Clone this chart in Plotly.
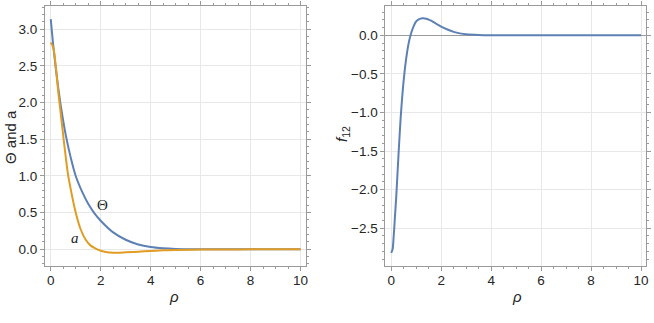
import plotly.graph_objects as go
from plotly.subplots import make_subplots

# values
rho_theta = [0, 0.1, 0.2, 0.3, 0.4, 0.5, 0.6, 0.8, 1.0, 1.25, 1.5, 1.75, 2.0,
             2.5, 3.0, 3.5, 4.0, 4.5, 5.0, 6.0, 7.0, 8.0, 9.0, 10.0]
theta = [3.14, 2.78, 2.47, 2.2, 1.96, 1.75, 1.56, 1.25, 1.0, 0.79, 0.62, 0.49, 0.39,
         0.23, 0.13, 0.065, 0.03, 0.013, 0.005, 0.001, 0.0, 0.0, 0.0, 0.0]

rho_a = [0, 0.1, 0.2, 0.3, 0.4, 0.5, 0.6, 0.7, 0.8, 0.9, 1.0, 1.2, 1.4, 1.6, 1.8,
         2.0, 2.25, 2.5, 2.75, 3.0, 3.5, 4.0, 4.5, 5.0, 6.0, 7.0, 8.0, 9.0, 10.0]
a_vals = [2.82, 2.75, 2.5, 2.15, 1.85, 1.55, 1.26, 1.0, 0.82, 0.65, 0.5, 0.27, 0.13,
          0.05, 0.01, -0.02, -0.04, -0.047, -0.046, -0.042, -0.033, -0.022, -0.014,
          -0.009, -0.004, -0.002, -0.001, 0.0, 0.0]

rho_f = [0, 0.05, 0.1, 0.15, 0.2, 0.25, 0.3, 0.35, 0.4, 0.5, 0.6, 0.7, 0.8, 0.9,
         1.0, 1.1, 1.2, 1.3, 1.4, 1.5, 1.6, 1.8, 2.0, 2.25, 2.5, 2.75, 3.0, 3.5,
         4.0, 5.0, 6.0, 8.0, 10.0]
f12 = [-2.82, -2.78, -2.6, -2.35, -2.1, -1.8, -1.5, -1.22, -0.97, -0.58, -0.3, -0.1,
       0.03, 0.12, 0.18, 0.208, 0.219, 0.22, 0.214, 0.203, 0.19, 0.15, 0.113, 0.075,
       0.045, 0.025, 0.013, 0.004, 0.001, 0.0, 0.0, 0.0, 0.0]

BLUE = "#5E81B5"
ORANGE = "#E19C24"
FRAME = "#9a9a9a"
GRID = "#e8e8e8"

fig = make_subplots(rows=1, cols=2, horizontal_spacing=0.133)

fig.add_trace(go.Scatter(x=rho_theta, y=theta, mode="lines", line_shape="spline",
                         line=dict(color=BLUE, width=2)), row=1, col=1)
fig.add_trace(go.Scatter(x=rho_a, y=a_vals, mode="lines", line_shape="spline",
                         line=dict(color=ORANGE, width=2)), row=1, col=1)
fig.add_trace(go.Scatter(x=rho_f, y=f12, mode="lines", line_shape="spline",
                         line=dict(color=BLUE, width=2)), row=1, col=2)

axis_common = dict(
    showline=True, linecolor=FRAME, linewidth=1, mirror="ticks",
    ticks="outside", ticklen=4, tickcolor=FRAME, tickwidth=1,
    showgrid=True, gridcolor=GRID, gridwidth=1, zeroline=False, automargin=False,
    tickfont=dict(family="Liberation Sans, Arial", size=13.5, color="#262626"),
)

fig.update_xaxes(range=[-0.23, 10.2], dtick=2, tickformat="d", ticklabelstandoff=-2,
                 minor=dict(dtick=0.5, ticks="outside", ticklen=2, tickcolor=FRAME,
                            showgrid=False), **axis_common)
fig.update_yaxes(range=[-0.228, 3.318], dtick=0.5, tickformat=".1f",
                 minor=dict(dtick=0.1, ticks="outside", ticklen=2, tickcolor=FRAME,
                            showgrid=False), row=1, col=1, **axis_common)
fig.update_yaxes(range=[-2.99, 0.38], dtick=0.5, tickformat=".1f",
                 minor=dict(dtick=0.1, ticks="outside", ticklen=2, tickcolor=FRAME,
                            showgrid=False), row=1, col=2, **axis_common)
fig.update_yaxes(zeroline=True, zerolinecolor=FRAME, zerolinewidth=1, row=1, col=2)

# paper coords: plot area spans x 45..646 px, y 6..266 px
def px_x(px):
    return (px - 45) / 601


def px_y(py):
    return (266 - py) / 260


title_font = dict(family="Liberation Sans, Arial", size=15, color="#262626")
serif_font = dict(family="Liberation Serif, Times New Roman", size=15, color="#262626")
centered = dict(xanchor="center", yanchor="middle", showarrow=False)
annotations = [
    dict(text="<i>ρ</i>", xref="paper", yref="paper", x=px_x(174), y=px_y(296),
         font=title_font, **centered),
    dict(text="<i>ρ</i>", xref="paper", yref="paper", x=px_x(517), y=px_y(296),
         font=title_font, **centered),
    dict(text="Θ and a", xref="paper", yref="paper", x=px_x(10), y=px_y(137),
         textangle=-90, font=title_font, **centered),
    dict(text="<i>f</i><sub>12</sub>", xref="paper", yref="paper", x=px_x(342),
         y=px_y(134), textangle=-90, font=title_font, **centered),
    dict(text="Θ", xref="x", yref="y", x=2.06, y=0.6, font=serif_font, **centered),
    dict(text="<i>a</i>", xref="x", yref="y", x=0.96, y=0.15, font=serif_font,
         **centered),
]

fig.update_layout(
    width=654, height=323,
    margin=dict(l=45, r=8, t=6, b=57, autoexpand=False),
    plot_bgcolor="white", paper_bgcolor="white",
    showlegend=False,
    annotations=annotations,
)

fig.write_html("out.html", config={"displayModeBar": False},
               post_script="document.body.style.margin='0px';")
